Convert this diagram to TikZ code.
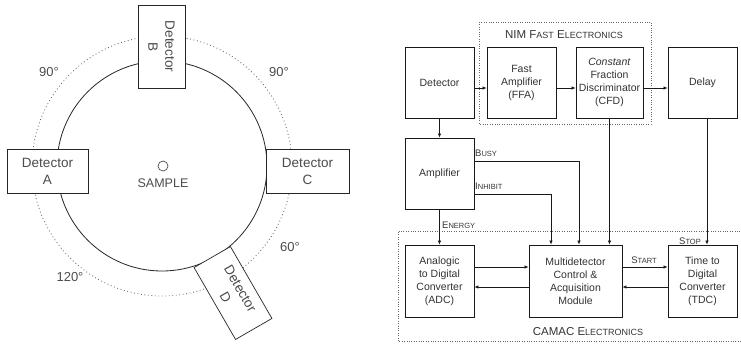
\documentclass[tikz,border=0pt]{standalone}
\usepackage{fontspec}
\setmainfont{Liberation Sans}
\usetikzlibrary{arrows.meta,calc}
\newcommand\lsc[1]{{\fontsize{7.5}{8}\selectfont #1}}
\newcommand\bsc[1]{{\fontsize{9}{10}\selectfont #1}}
\begin{document}
\begin{tikzpicture}[x=1pt,y=-1pt,
  every node/.style={text=black!80},
  blk/.style={draw=black!90, line width=0.8pt, fill=white, align=center, inner sep=1pt,
    minimum width=69pt, minimum height=71pt, font=\fontsize{10.5}{13}\selectfont},
  detbox/.style={draw=black!85, line width=0.7pt, fill=white, align=center,
    font=\fontsize{13.5}{17}\selectfont, inner sep=1pt, text=black!70},
  arr/.style={draw=black!90, line width=0.7pt, -{Latex[length=4pt,width=3.5pt]}},
  lbl/.style={font=\fontsize{9.5}{10}\selectfont, inner sep=0pt},
  ang/.style={font=\fontsize{13}{14}\selectfont, inner sep=0pt, text=black!70},
  dotline/.style={draw=black!60, line width=0.8pt, dash pattern=on 0.8pt off 1.6pt},
]
\useasboundingbox (0,0) rectangle (741,343);

% ---------- left: geometry ----------
\coordinate (O) at (162,166);
\draw[dotline, dash pattern=on 0.9pt off 2.6pt] (O) circle[radius=130pt];
\draw[black!85, line width=0.8pt] (O) circle[radius=105pt];
\node[circle, draw=black!70, line width=0.7pt, minimum size=10pt, inner sep=0pt] (S) at (163,166) {};
\node[font=\fontsize{12.5}{14}\selectfont, text=black!70, inner sep=0pt] (SL) at (163,183) {SAMPLE};

\node[detbox, minimum width=81pt, minimum height=44pt] (A) at (47.5,171) {Detector\\A};
\node[detbox, minimum width=83pt, minimum height=44pt] (C) at (307.5,171) {Detector\\C};
\node[detbox, minimum width=83pt, minimum height=47pt, rotate=-90] (B) at (161.5,46.5) {Detector\\B};
\node[detbox, minimum width=83pt, minimum height=42pt, rotate=-60] (D) at (233,293) {Detector\\D};

\node[ang] (a1) at (49,72) {90°};
\node[ang] (a2) at (279,72) {90°};
\node[ang] (a3) at (290,247) {60°};
\node[ang] (a4) at (70,277) {120°};

% ---------- right: block diagram ----------
\draw[dotline] (479,22) rectangle (651,124);
\node[inner sep=0pt, font=\fontsize{11.5}{12}\selectfont] (nim) at (564,35) {NIM F\bsc{AST} E\bsc{LECTRONICS}};
\draw[dotline] (745,231) -- (398,231) -- (398,341) -- (745,341);
\node[inner sep=0pt, font=\fontsize{11.5}{12}\selectfont] (camac) at (588,332) {CAMAC E\bsc{LECTRONICS}};

\node[blk] (det) at (439.5,82.5) {Detector};
\node[blk] (ffa) at (521.5,82.5) {Fast\\Amplifier\\(FFA)};
\node[blk, minimum width=67pt] (cfd) at (609.5,82.5) {\textit{Constant}\\Fraction\\Discriminator\\(CFD)};
\node[blk] (delay) at (702.5,82.5) {Delay};
\node[blk] (amp) at (439.5,173.5) {Amplifier};
\node[blk, minimum height=72pt] (adc) at (439.5,281) {Analogic\\to Digital\\Converter\\(ADC)};
\node[blk, minimum width=93pt, minimum height=72pt] (mca) at (575.5,281) {Multidetector\\Control \&\\Acquisition\\Module};
\node[blk, minimum height=72pt] (tdc) at (702.5,281) {Time to\\Digital\\Converter\\(TDC)};

\coordinate (yt) at (0,88);
\coordinate (yb) at (0,161);
\coordinate (yi) at (0,194);
\coordinate (y1) at (0,267);
\coordinate (y2) at (0,287);
\coordinate (xb) at (579,0);
\coordinate (xi) at (551,0);
\coordinate (xd) at (707,0);

\draw[arr] (det.east |- yt) -- (ffa.west |- yt);
\draw[arr] (ffa.east |- yt) -- (cfd.west |- yt);
\draw[arr] (cfd.east |- yt) -- (delay.west |- yt);
\draw[arr] (det.south) -- (amp.north);
\draw[arr] (amp.south) -- (adc.north);
\draw[arr] (amp.east |- yb) -| (xb |- mca.north);
\draw[arr] (amp.east |- yi) -| (xi |- mca.north);
\draw[arr] (cfd.south) -- (cfd.south |- mca.north);
\draw[arr] (xd |- delay.south) -- (xd |- tdc.north);
\draw[arr] (adc.east |- y1) -- (mca.west |- y1);
\draw[arr] (mca.west |- y2) -- (adc.east |- y2);
\draw[arr] (mca.east |- y1) -- (tdc.west |- y1);
\draw[arr] (tdc.west |- y2) -- (mca.east |- y2);

\node[lbl, anchor=west] (busy) at (475,153) {B\lsc{USY}};
\node[lbl, anchor=west] (inh) at (475,186) {I\lsc{NHIBIT}};
\node[lbl, anchor=west] (en) at (442,225) {E\lsc{NERGY}};
\node[lbl] (start) at (644,260) {S\lsc{TART}};
\node[lbl] (stop) at (690,241) {S\lsc{TOP}};
\end{tikzpicture}
\end{document}
